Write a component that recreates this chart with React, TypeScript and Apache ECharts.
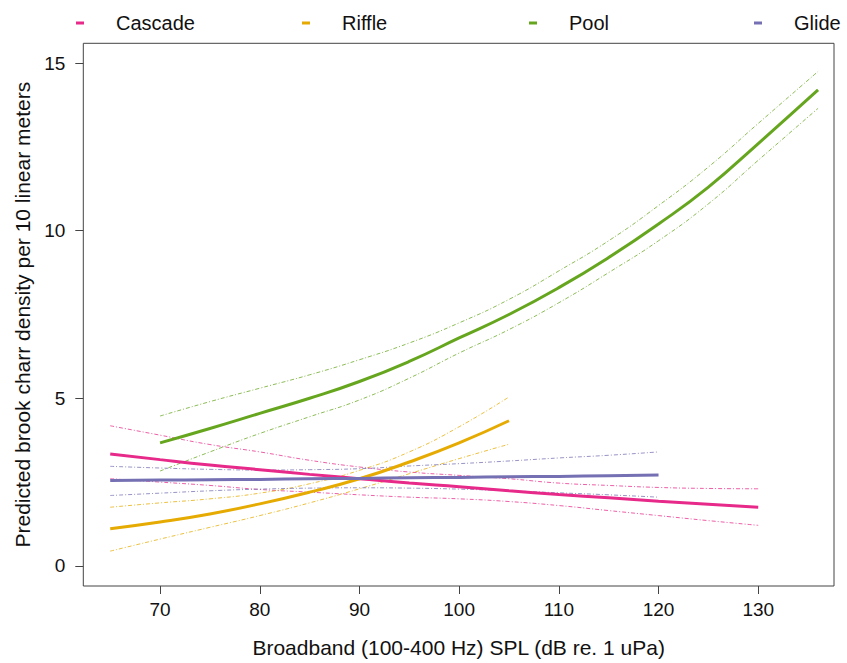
import React, { useEffect, useRef } from "react";
import * as echarts from "echarts";

// ---- data ----
const categories = ["Cascade", "Riffle", "Pool", "Glide"];
const colors = ["#E7298A", "#E6AB02", "#66A61E", "#7570B3"];

const cascadeX = [65, 70, 75, 80, 85, 90, 95, 100, 105, 110, 115, 120, 125, 130];
const cascadeFit = [3.34, 3.17, 3.01, 2.87, 2.73, 2.6, 2.47, 2.36, 2.24, 2.13, 2.03, 1.93, 1.84, 1.75];
const cascadeUpper = [4.18, 3.9, 3.62, 3.4, 3.15, 2.95, 2.8, 2.7, 2.6, 2.47, 2.4, 2.34, 2.31, 2.3];
const cascadeLower = [2.6, 2.5, 2.4, 2.28, 2.2, 2.12, 2.05, 2.0, 1.92, 1.8, 1.65, 1.5, 1.35, 1.21];

const riffleX = [65, 70, 75, 80, 85, 90, 95, 100, 105];
const riffleFit = [1.11, 1.31, 1.55, 1.85, 2.2, 2.6, 3.1, 3.67, 4.33];
const riffleUpper = [1.75, 1.88, 2.0, 2.17, 2.45, 2.85, 3.4, 4.15, 5.04];
const riffleLower = [0.44, 0.8, 1.15, 1.5, 1.88, 2.3, 2.75, 3.2, 3.63];

const poolX = [70, 75, 80, 85, 90, 95, 100, 105, 110, 115, 120, 125, 130, 136];
const poolFit = [3.67, 4.1, 4.55, 5.0, 5.5, 6.1, 6.8, 7.5, 8.3, 9.2, 10.2, 11.3, 12.6, 14.2];
const poolUpper = [4.47, 4.9, 5.3, 5.7, 6.15, 6.65, 7.25, 7.95, 8.8, 9.7, 10.75, 11.9, 13.2, 14.75];
const poolLower = [2.83, 3.4, 3.95, 4.45, 4.95, 5.6, 6.35, 7.05, 7.85, 8.75, 9.7, 10.8, 12.1, 13.65];

const glideX = [65, 70, 75, 80, 85, 90, 95, 100, 105, 110, 115, 120];
const glideFit = [2.55, 2.56, 2.57, 2.58, 2.6, 2.61, 2.63, 2.64, 2.66, 2.67, 2.69, 2.71];
const glideUpper = [2.97, 2.92, 2.88, 2.86, 2.87, 2.9, 2.98, 3.05, 3.13, 3.22, 3.3, 3.4];
const glideLower = [2.1, 2.17, 2.24, 2.29, 2.32, 2.33, 2.32, 2.29, 2.24, 2.18, 2.12, 2.05];

const xTicks = [70, 80, 90, 100, 110, 120, 130];
const yTicks = [0, 5, 10, 15];

const xTitle = "Broadband (100-400 Hz) SPL (dB re. 1 uPa)";
const yTitle = "Predicted brook charr density per 10 linear meters";

const groups = [
  { x: cascadeX, fit: cascadeFit, upper: cascadeUpper, lower: cascadeLower },
  { x: riffleX, fit: riffleFit, upper: riffleUpper, lower: riffleLower },
  { x: poolX, fit: poolFit, upper: poolUpper, lower: poolLower },
  { x: glideX, fit: glideFit, upper: glideUpper, lower: glideLower },
];

const FONT = "'Liberation Sans', Arial, Helvetica, sans-serif";

function zip(xs: number[], ys: number[]) {
  return xs.map((x, i) => [x, ys[i]]);
}

export default function App() {
  const ref = useRef<HTMLDivElement>(null);

  useEffect(() => {
    if (!ref.current) return;
    const chart = echarts.init(ref.current, undefined, { renderer: "svg" });

    const ciSeries: any[] = [];
    const fitSeries: any[] = [];
    groups.forEach((g, i) => {
      ["upper", "lower"].forEach((k) => {
        ciSeries.push({
          name: `${categories[i]} ${k} CI`,
          type: "line",
          data: zip(g.x, (g as any)[k]),
          showSymbol: false,
          smooth: true,
          silent: true,
          lineStyle: { width: 1, color: colors[i], opacity: 0.75, type: [4, 2, 1, 2] },
          z: 1,
        });
      });
      fitSeries.push({
        name: categories[i],
        type: "line",
        data: zip(g.x, g.fit),
        showSymbol: false,
        smooth: true,
        itemStyle: { color: colors[i] },
        lineStyle: { width: 3, color: colors[i] },
        z: 3,
      });
    });

    const legendLefts = [76, 302, 529, 754];

    chart.setOption({
      animation: false,
      textStyle: { fontFamily: FONT },
      grid: {
        left: 83.3,
        top: 43.3,
        right: 13,
        bottom: 68.7,
        show: true,
        borderColor: "#444",
        borderWidth: 1,
        backgroundColor: "transparent",
      },
      legend: categories.map((name, i) => ({
        data: [name],
        left: legendLefts[i],
        top: 13,
        padding: 0,
        icon: "rect",
        itemWidth: 8,
        itemHeight: 3,
        selectedMode: true,
        textStyle: { fontSize: 20, color: "#111", fontFamily: FONT, padding: [0, 0, 0, 27] },
      })),
      xAxis: {
        type: "value",
        min: 62.3,
        max: 137.6,
        name: xTitle,
        nameLocation: "middle",
        nameGap: 51,
        nameTextStyle: { fontSize: 21, color: "#111", fontFamily: FONT },
        axisLine: { show: false, onZero: false },
        axisTick: { show: true, length: 8, customValues: xTicks, lineStyle: { color: "#444" } },
        axisLabel: { customValues: xTicks, fontSize: 19, color: "#111", margin: 14, fontFamily: FONT },
        splitLine: { show: false },
      },
      yAxis: {
        type: "value",
        min: -0.6,
        max: 15.59,
        name: yTitle,
        nameLocation: "middle",
        nameGap: 50,
        nameTextStyle: { fontSize: 21, color: "#111", fontFamily: FONT },
        axisLine: { show: false, onZero: false },
        axisTick: { show: true, length: 8, customValues: yTicks, lineStyle: { color: "#444" } },
        axisLabel: { customValues: yTicks, fontSize: 19, color: "#111", margin: 18, fontFamily: FONT },
        splitLine: { show: false },
      },
      series: [...ciSeries, ...fitSeries],
    });

    return () => chart.dispose();
  }, []);

  return (
    <div
      ref={ref}
      style={{ position: "absolute", left: 0, top: 0, width: 847, height: 663, background: "#fff" }}
    />
  );
}
